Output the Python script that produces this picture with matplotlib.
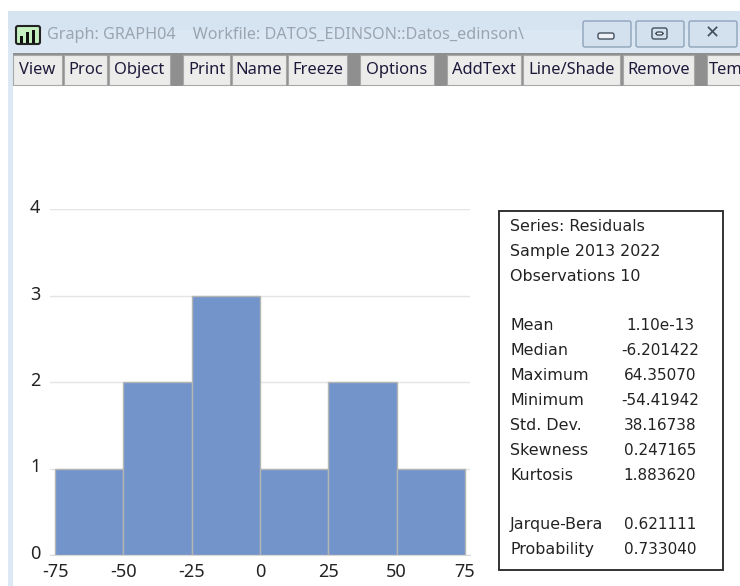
import matplotlib
matplotlib.use('Agg')
import matplotlib.pyplot as plt
from matplotlib.patches import Rectangle, FancyBboxPatch
from matplotlib.transforms import ScaledTranslation

plt.rcParams['font.family'] = ['Noto Sans', 'DejaVu Sans']
plt.rcParams['axes.unicode_minus'] = False

# histogram
bin_edges = [-75, -50, -25, 0, 25, 50]
bin_width = 25
counts = [1, 2, 3, 1, 2, 1]
x_ticks = [-75, -50, -25, 0, 25, 50, 75]
y_ticks = [0, 1, 2, 3, 4]

# stats box
header_lines = ['Series: Residuals', 'Sample 2013 2022', 'Observations 10']
stat_names = ['Mean', 'Median', 'Maximum', 'Minimum', 'Std. Dev.', 'Skewness', 'Kurtosis']
stat_values = ['1.10e-13', '-6.201422', '64.35070', '-54.41942', '38.16738', '0.247165', '1.883620']
test_names = ['Jarque-Bera', 'Probability']
test_values = ['0.621111', '0.733040']

# window toolbar
title_text = 'Graph: GRAPH04    Workfile: DATOS_EDINSON::Datos_edinson\\'
button_names = ['View', 'Proc', 'Object', 'Print', 'Name', 'Freeze', 'Options',
                'AddText', 'Line/Shade', 'Remove', 'Tem']
button_left = [13, 64, 109, 183, 232, 288, 360, 447, 523, 623, 707]
button_right = [62, 107, 170, 230, 286, 347, 434, 521, 620, 694, 760]

W, H = 740, 586
fig = plt.figure(figsize=(W / 100, H / 100), dpi=100)

# whole figure as a pixel canvas for the window chrome
bg = fig.add_axes([0, 0, 1, 1])
bg.set_xlim(0, W)
bg.set_ylim(H, 0)
bg.axis('off')


def box(x0, y0, x1, y1, **kw):
    bg.add_patch(Rectangle((x0, y0), x1 - x0, y1 - y0, **kw))


def rounded(x0, y0, x1, y1, **kw):
    bg.add_patch(FancyBboxPatch((x0 + 2, y0 + 2), x1 - x0 - 4, y1 - y0 - 4,
                                boxstyle='round,pad=2', **kw))


box(8, 11, W, 53, fc='#d6e4f2', ec='none')
box(8, 30, W, 53, fc='#dbe7f3', ec='none')
box(8, 53, 13, H, fc='#dce8f4', ec='none')
box(13, 53, W, 86, fc='#8f8f8f', ec='none')

# icon
rounded(16, 26, 40, 44, fc='#c5f0c0', ec='#222222', lw=1.5)
box(20, 36, 23, 43, fc='#111111', ec='none')
box(26, 32, 29, 43, fc='#111111', ec='none')
box(32, 30, 35, 43, fc='#111111', ec='none')
bg.text(47, 35, title_text, fontsize=11.65, color='#9aa5b0', va='center', ha='left')

# caption buttons
for x0, x1 in [(583, 631), (636, 684), (689, 737)]:
    rounded(x0, 21, x1, 47, fc='#d3e0ee', ec='#8ea3ba', lw=1)
rounded(598, 33, 614, 39, fc='#eef2f6', ec='#44505c', lw=1)
rounded(652, 28, 667, 39, fc='#d3e0ee', ec='#44505c', lw=1)
rounded(656, 32, 663, 35, fc='#eef2f6', ec='#44505c', lw=1)
bg.text(712, 33.5, '✕', fontsize=13, color='#44505c', ha='center', va='center',
        family=['DejaVu Sans'], weight='bold')

# toolbar buttons
for name, x0, x1 in zip(button_names, button_left, button_right):
    box(x0, 55, x1, 85, fc='#ececea', ec='#a8a8a8', lw=0.8)
    bg.text((x0 + x1) / 2 if name != 'Tem' else 709, 70, name, fontsize=11.9, color='#1e1a3c',
            ha='center' if name != 'Tem' else 'left', va='center')

# histogram axes: 0 at y=555, 4 at y=209, -75 at x=55, 75 at x=465
ax = fig.add_axes([50 / W, 1 - 555 / H, 420 / W, 346 / H])
ax.bar(bin_edges, counts, width=bin_width, align='edge', color='#7294cb',
       edgecolor='#b4b4b4', linewidth=1, zorder=3)
ax.set_xlim(-75 - 5 * 150 / 410, 75 + 5 * 150 / 410)
ax.set_ylim(0, 4)
ax.set_xticks(x_ticks)
ax.set_yticks(y_ticks)
ax.grid(axis='y', color='#e4e4e4', linewidth=1, zorder=0)
for side in ['top', 'left', 'right']:
    ax.spines[side].set_visible(False)
ax.spines['bottom'].set_color('#d8d8d8')
ax.tick_params(length=0, labelsize=13, labelcolor='#222222')
ax.tick_params(axis='y', pad=7)
ax.tick_params(axis='x', pad=6)
ax.patch.set_alpha(0)
# labels sit a little above their gridlines in the reference
shift = ScaledTranslation(0, 3 / 100, fig.dpi_scale_trans)
for lab in ax.get_yticklabels():
    lab.set_transform(lab.get_transform() + shift)

# stats box
box(499, 210.5, 723, 570, fc='white', ec='#222222', lw=1.3, zorder=5)
name_font = {'fontsize': 11.4, 'color': '#222222', 'va': 'center', 'zorder': 6,
             'family': ['DejaVu Sans']}
val_font = dict(name_font, fontsize=11, ha='center')
line_h = 24.85
y = 226.5
for line in header_lines:
    bg.text(510, y, line, **name_font)
    y += line_h
y += line_h
for name, val in zip(stat_names, stat_values):
    bg.text(510, y, name, **name_font)
    bg.text(660, y, val, **val_font)
    y += line_h
y += line_h
for name, val in zip(test_names, test_values):
    bg.text(510, y, name, **name_font)
    bg.text(660, y, val, **val_font)
    y += line_h

fig.savefig('out.png', dpi=100)
